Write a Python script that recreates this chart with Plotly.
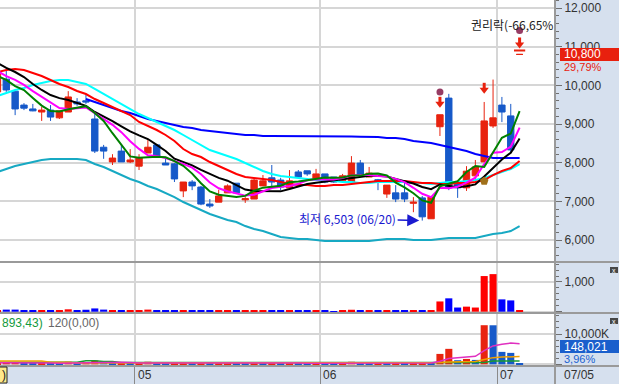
import plotly.graph_objects as go

# ---------------- data ----------------
month_labels = ["05", "06", "07"]
month_first_idx = [16, 37, 57]
last_date_label = "07/05"

opens = [9830, 10160, 9850, 9490, 9390, 9310, 9360, 9160, 9310, 9570,
         9600, 9130, 8400, 8020, 8300, 8020, 7910, 8250, 8460, 7990,
         7970, 7270, 7500, 7370, 6930, 6980, 7220, 7470, 7040, 7060,
         7400, 7610, 7550, 7350, 7760, 7790, 7580, 7710, 7630, 7530,
         7500, 7990, 7630, 7560, 7190, 7220, 7220, 6950, 7090, 6550,
         8930, 9670, 7470, 7350, 7660, 8020, 8950, 9490, 9210, 10800]
highs = [10350, 10400, 9850, 9540, 9520, 9440, 9490, 9340, 9850, 9670,
         9750, 9280, 8460, 8220, 8460, 8350, 8220, 8590, 8460, 8150,
         7990, 7500, 7550, 7400, 7060, 7300, 7440, 7470, 7110, 7580,
         7680, 7940, 7610, 7810, 7810, 7790, 7840, 7710, 7630, 7710,
         8170, 8070, 7890, 7580, 7420, 7420, 7500, 7110, 7140, 7110,
         9240, 9780, 7470, 7910, 8070, 9570, 10150, 9700, 9520, 10800]
lows = [9830, 9830, 9230, 9360, 9330, 9080, 9080, 9130, 9310, 9470,
        9520, 8250, 8100, 7940, 8020, 7990, 7810, 8250, 8150, 7940,
        7500, 7110, 7290, 6900, 6830, 6980, 7220, 7220, 6960, 7060,
        7400, 7370, 7290, 7350, 7630, 7660, 7560, 7470, 7480, 7480,
        7500, 7630, 7630, 7290, 7090, 6980, 6980, 6720, 6503, 6550,
        8690, 7290, 7090, 7270, 7550, 8020, 8900, 9050, 8250, 10800]
closes = [10350, 9880, 9390, 9410, 9340, 9360, 9180, 9340, 9700, 9520,
          9570, 8300, 8300, 8120, 8020, 8070, 8120, 8400, 8170, 7940,
          7580, 7500, 7400, 6930, 6880, 7140, 7400, 7220, 7070, 7550,
          7530, 7500, 7370, 7530, 7630, 7710, 7710, 7500, 7500, 7660,
          7990, 7680, 7730, 7530, 7420, 7060, 7060, 6980, 6600, 7110,
          9240, 7350, 7350, 7780, 7890, 9080, 9160, 9310, 8330, 10800]

ma_green = [10240, 10140, 9980, 9880, 9674, 9476, 9336, 9326, 9384, 9420,
            9462, 9286, 9078, 8762, 8462, 8162, 8126, 8146, 8156, 8140,
            8042, 7918, 7718, 7470, 7258, 7170, 7150, 7114, 7142, 7276,
            7354, 7374, 7404, 7496, 7512, 7548, 7590, 7616, 7610, 7616,
            7672, 7666, 7712, 7718, 7670, 7484, 7360, 7210, 7024, 6962,
            7392, 7450, 7524, 7760, 7916, 7890, 8252, 8644, 8754, 9336]
ma_magenta = [10370, 10240, 10140, 10010, 9850, 9700, 9559, 9414, 9389, 9407,
              9430, 9281, 9130, 8979, 8790, 8557, 8357, 8190, 8171, 8120,
              8043, 7969, 7873, 7703, 7486, 7339, 7261, 7210, 7149, 7170,
              7256, 7344, 7377, 7396, 7454, 7546, 7569, 7564, 7564, 7606,
              7671, 7679, 7681, 7656, 7644, 7581, 7496, 7351, 7197, 7109,
              7349, 7339, 7380, 7483, 7613, 7967, 8260, 8274, 8414, 8907]
ma_black = [10580, 10450, 10345, 10215, 10035, 9880, 9750, 9670, 9620, 9547,
            9469, 9311, 9202, 9073, 8941, 8812, 8706, 8612, 8459, 8301,
            8102, 8022, 7932, 7813, 7699, 7606, 7534, 7416, 7306, 7267,
            7262, 7262, 7259, 7319, 7394, 7451, 7482, 7510, 7553, 7564,
            7610, 7628, 7664, 7664, 7643, 7578, 7513, 7461, 7371, 7316,
            7438, 7405, 7367, 7392, 7439, 7641, 7851, 8084, 8257, 8626]
ma_red = [10345, 10397, 10420, 10397, 10320, 10241, 10138, 10035, 9957, 9854,
          9776, 9647, 9543, 9440, 9336, 9233, 9052, 8948, 8845, 8716,
          8560, 8354, 8224, 8147, 8018, 7914, 7811, 7707, 7630, 7604,
          7578, 7552, 7500, 7449, 7423, 7423, 7397, 7397, 7423, 7423,
          7449, 7475, 7500, 7526, 7526, 7526, 7526, 7500, 7475, 7475,
          7449, 7449, 7475, 7475, 7500, 7552, 7681, 7785, 7862, 8043]
ma_cyan = [9724, 9802, 9880, 9931, 10009, 10060, 10112, 10138, 10138, 10086,
           10035, 9906, 9776, 9647, 9517, 9388, 9259, 9155, 9052, 8948,
           8845, 8716, 8586, 8457, 8328, 8250, 8173, 8095, 7992, 7888,
           7785, 7707, 7656, 7630, 7604, 7578, 7552, 7552, 7526, 7500,
           7500, 7475, 7475, 7500, 7500, 7500, 7500, 7475, 7475, 7449,
           7475, 7500, 7500, 7526, 7552, 7604, 7681, 7759, 7837, 7966]
ma_blue = [None, None, None, None, None, None, None, None, None, None,
           9647, 9569, 9492, 9414, 9336, 9285, 9207, 9129, 9078, 9026,
           8974, 8923, 8897, 8845, 8819, 8793, 8768, 8742, 8716, 8716,
           8690, 8690, 8690, 8690, 8680, 8680, 8680, 8680, 8675, 8675,
           8675, 8670, 8670, 8664, 8638, 8638, 8612, 8560, 8535, 8509,
           8457, 8405, 8354, 8302, 8224, 8173, 8121, 8121, 8121, 8121]
ma_teal = [7759, 7837, 7914, 7966, 8018, 8069, 8095, 8095, 8095, 8095,
           8069, 7966, 7888, 7785, 7681, 7578, 7500, 7397, 7319, 7216,
           7112, 6983, 6880, 6776, 6673, 6595, 6518, 6466, 6362, 6285,
           6233, 6155, 6078, 6052, 6026, 6026, 6000, 5974, 5974, 5974,
           5974, 5974, 5974, 6000, 6026, 6026, 6026, 6000, 6000, 6000,
           6026, 6052, 6052, 6052, 6052, 6104, 6155, 6181, 6233, 6362]

trade_value = [55, 70, 70, 35, 30, 35, 30, 30, 80, 35,
               65, 110, 70, 30, 35, 25, 30, 70, 35, 25,
               35, 35, 25, 35, 25, 30, 35, 30, 25, 40,
               30, 30, 25, 30, 25, 25, 30, 25, 20, 25,
               65, 35, 25, 30, 25, 30, 25, 25, 35, 30,
               345, 450, 140, 170, 140, 1200, 1265, 415, 380, 25]
volume = [560, 700, 730, 370, 320, 370, 330, 320, 830, 370,
          680, 1250, 840, 370, 430, 310, 370, 840, 430, 310,
          450, 470, 340, 490, 360, 420, 480, 410, 350, 540,
          400, 400, 340, 400, 330, 320, 390, 330, 270, 330,
          830, 450, 320, 400, 340, 420, 350, 360, 510, 440,
          3430, 5100, 1350, 1770, 1450, 12900, 12880, 4100, 3770, 148]
vol_ma_magenta = [520, 540, 560, 560, 540, 500, 420, 350, 430, 440,
                  510, 680, 790, 800, 700, 600, 400, 470, 480, 450,
                  460, 490, 410, 410, 410, 410, 430, 430, 400, 440,
                  440, 430, 420, 420, 400, 360, 350, 350, 330, 330,
                  430, 450, 460, 470, 480, 370, 370, 380, 400, 420,
                  1020, 1920, 2130, 2410, 2620, 4510, 6070, 6620, 7020, 6760]
vol_ma_orange = [1100, 1100, 1100, 1100, 1100, 1100, 700, 700, 700, 450,
                 450, 450, 450, 450, 450, 450, 450, 450, 450, 450,
                 450, 450, 450, 450, 450, 450, 450, 450, 450, 450,
                 450, 450, 450, 450, 450, 450, 450, 450, 450, 450,
                 450, 450, 450, 450, 450, 450, 450, 450, 450, 450,
                 580, 780, 830, 900, 950, 1580, 2200, 2390, 2560, 2550]
vol_ma_green = [650, 650, 650, 650, 650, 650, 650, 650, 650, 650,
                1200, 1200, 900, 900, 600, 600, 600, 600, 600, 600,
                600, 600, 600, 600, 600, 600, 600, 600, 600, 600,
                600, 600, 600, 600, 600, 600, 600, 600, 600, 600,
                600, 600, 600, 600, 600, 600, 600, 600, 600, 600,
                600, 600, 600, 600, 600, 600, 1050, 1050, 1050, 1050]

low_idx, low_value = 48, 6503
low_label = "최저 6,503 (06/20)"
signal_arrow_idx = [50, 55, 59]
signal_arrow_tip = [9432, 9794, 10966]
signal_dot_idx = [50, 59]
signal_dot_price = [9828, 11418]
signal_buy_idx = [55]
signal_buy_price = [7526]
rights_label = "권리락(-66,65%"
last_price = 10800
last_price_label = "10,800"
last_change_label = "29,79%"
last_volume_label = "148,021"
last_volume_change = "3,96%"
legend_snippets = ["893,43)", "120(0,00)"]

x = list(range(len(opens)))

# ---------------- layout constants ----------------
W, H = 619, 384
PW, PH = 555, 366
ROW1_B, ROW2_B = 262, 313
Y1 = [5432, 12207]
Y2 = [-44, 1673]
Y3 = [-561, 16930]
XR = [0.29, 63.0]
ppp = (Y1[1] - Y1[0]) / ROW1_B  # price per pixel in main panel

RED_C, BLUE_C = "#e8230f", "#1659c9"
GRID = "#d6d6d6"
SEP = "#9a9a9a"
BG = "#d6e0ee"
NUMFONT = "Liberation Sans, Arial, sans-serif"
KRFONT = "Noto Sans CJK KR, sans-serif"


def pyp(px):
    return 1 - px / PH


def pxp(px):
    return px / PW


fig = go.Figure()

# moving-average lines (main panel)
for vals, col in [(ma_teal, "#17a9c3"), (ma_blue, "#0000ff"), (ma_cyan, "#00ffff"),
                  (ma_red, "#ff0000"), (ma_black, "#000000"),
                  (ma_magenta, "#ff00ff"), (ma_green, "#008000")]:
    fig.add_trace(go.Scatter(x=x, y=vals, mode="lines", line=dict(color=col, width=2),
                             hoverinfo="skip", xaxis="x", yaxis="y"))

fig.add_trace(go.Candlestick(
    x=x, open=opens, high=highs, low=lows, close=closes,
    increasing=dict(line=dict(color=RED_C, width=1), fillcolor=RED_C),
    decreasing=dict(line=dict(color=BLUE_C, width=1), fillcolor=BLUE_C),
    whiskerwidth=0, hoverinfo="skip", xaxis="x", yaxis="y"))

# signal markers
stem_y = [t + 7 * ppp for t in signal_arrow_tip]
head_y = [t + 3.5 * ppp for t in signal_arrow_tip]
fig.add_trace(go.Scatter(x=signal_arrow_idx, y=stem_y, mode="markers",
                         marker=dict(symbol="line-ns", size=5, line=dict(color=RED_C, width=3)),
                         hoverinfo="skip", xaxis="x", yaxis="y"))
fig.add_trace(go.Scatter(x=signal_arrow_idx, y=head_y, mode="markers",
                         marker=dict(symbol="triangle-down", size=8, color=RED_C, line=dict(width=0)),
                         hoverinfo="skip", xaxis="x", yaxis="y"))
fig.add_trace(go.Scatter(x=signal_arrow_idx[-1:], y=[signal_arrow_tip[-1] - 2.5 * ppp], mode="markers",
                         marker=dict(symbol="line-ew", size=8, line=dict(color=RED_C, width=2)),
                         hoverinfo="skip", xaxis="x", yaxis="y"))
fig.add_trace(go.Scatter(x=signal_dot_idx, y=signal_dot_price, mode="markers",
                         marker=dict(symbol="circle", size=7, color="#963c64", line=dict(width=0)),
                         hoverinfo="skip", xaxis="x", yaxis="y"))
fig.add_trace(go.Scatter(x=signal_buy_idx, y=signal_buy_price, mode="markers",
                         marker=dict(symbol="pentagon", size=9, color="#a0701a", line=dict(width=0)),
                         hoverinfo="skip", xaxis="x", yaxis="y"))

# trading value panel
tv_colors = ["#ff0000" if c >= o else "#0000ff" for o, c in zip(opens, closes)]
fig.add_trace(go.Bar(x=x, y=trade_value, marker=dict(color=tv_colors, line=dict(width=0)),
                     width=0.8, hoverinfo="skip", xaxis="x2", yaxis="y2"))

# volume panel
vol_colors = [RED_C] + [RED_C if volume[i] >= volume[i - 1] else BLUE_C for i in range(1, len(volume))]
fig.add_trace(go.Bar(x=x, y=volume, marker=dict(color=vol_colors, line=dict(width=0)),
                     width=0.8, hoverinfo="skip", xaxis="x3", yaxis="y3"))
for vals, col in [(vol_ma_green, "#1a9a30"), (vol_ma_orange, "#f0a000"), (vol_ma_magenta, "#e030c0")]:
    fig.add_trace(go.Scatter(x=x, y=vals, mode="lines", line=dict(color=col, width=1.5),
                             hoverinfo="skip", xaxis="x3", yaxis="y3"))

common_x = dict(range=XR, tickmode="array", tickvals=[s - 0.5 for s in month_first_idx],
                showgrid=True, gridcolor=GRID, gridwidth=2, showticklabels=False,
                zeroline=False, showline=False, fixedrange=True)
tickstyle = dict(side="right", ticks="outside", ticklen=6, tickwidth=1, tickcolor="#707070",
                 showline=False, zeroline=False, showgrid=True, gridcolor=GRID, gridwidth=2,
                 tickfont=dict(family=NUMFONT, size=12, color="#333333"), fixedrange=True)

fig.update_layout(
    width=W, height=H, autosize=False,
    margin=dict(l=0, r=W - PW, t=0, b=H - PH, pad=0),
    paper_bgcolor=BG, plot_bgcolor="white", showlegend=False,
    bargap=0.2, boxmode="overlay", boxgap=0.2, boxgroupgap=0.1,
    xaxis=dict(**common_x, anchor="y", rangeslider=dict(visible=False)),
    xaxis2=dict(**common_x, anchor="y2", matches="x"),
    xaxis3=dict(**common_x, anchor="y3", matches="x", ticks="outside", ticklen=H - PH,
                tickcolor="#8a8a8a", tickwidth=1),
    yaxis=dict(**tickstyle, domain=[pyp(ROW1_B), 1], range=Y1, tickmode="linear",
               tick0=0, dtick=1000, tickformat=",d",
               minor=dict(dtick=200, tick0=0, ticks="outside", ticklen=3, tickcolor="#707070", showgrid=False)),
    yaxis2=dict(**tickstyle, domain=[pyp(ROW2_B), pyp(ROW1_B)], range=Y2, tickmode="array",
                tickvals=[0, 1000], ticktext=["", "1,000"],
                minor=dict(dtick=200, tick0=0, ticks="outside", ticklen=3, tickcolor="#707070", showgrid=False)),
    yaxis3=dict(**tickstyle, domain=[0, pyp(ROW2_B)], range=Y3, tickmode="array",
                tickvals=[0, 10000], ticktext=["", "10,000K"],
                minor=dict(dtick=2000, tick0=0, ticks="outside", ticklen=3, tickcolor="#707070", showgrid=False)),
)

xr = W / PW
shapes = []
for py_ in [ROW1_B, ROW2_B, PH]:
    shapes.append(dict(type="line", xref="paper", yref="paper", x0=0, x1=xr, y0=pyp(py_), y1=pyp(py_),
                       line=dict(color=SEP, width=2), layer="above"))
shapes.append(dict(type="line", xref="paper", yref="paper", x0=1, x1=1, y0=pyp(H), y1=1,
                   line=dict(color=SEP, width=2), layer="above"))
# yellow cursor box bottom-left
shapes.append(dict(type="rect", xref="paper", yref="paper", x0=pxp(-20), x1=pxp(7), y0=pyp(383), y1=pyp(367),
                   fillcolor="#ffe98a", line=dict(color="#222222", width=1), layer="above"))
# last price box
shapes.append(dict(type="rect", xref="paper", yref="y", x0=pxp(560), x1=xr, y0=last_price - 6.5 * ppp,
                   y1=last_price + 6.5 * ppp, fillcolor="#e8200e", line=dict(width=0), layer="above"))
# last volume box
shapes.append(dict(type="rect", xref="paper", yref="paper", x0=pxp(560), x1=xr, y0=pyp(353), y1=pyp(340),
                   fillcolor="#1a5fcc", line=dict(width=0), layer="above"))
# close buttons
for top in [267, 318]:
    shapes.append(dict(type="rect", xref="paper", yref="paper", x0=pxp(610), x1=pxp(618),
                       y0=pyp(top + 6), y1=pyp(top), fillcolor="#474747", line=dict(width=0), layer="above"))

ann = []
for lab, s in zip(month_labels, month_first_idx):
    ann.append(dict(xref="x", yref="paper", x=s - 0.5, y=pyp(375), text=lab, showarrow=False,
                    xanchor="left", yanchor="middle", xshift=1,
                    font=dict(family=NUMFONT, size=12, color="#333333")))
ann.append(dict(xref="paper", yref="paper", x=pxp(562), y=pyp(375), text=last_date_label, showarrow=False,
                xanchor="left", yanchor="middle", font=dict(family=NUMFONT, size=12, color="#333333")))
ann.append(dict(xref="paper", yref="paper", x=0, y=pyp(375), text=")", showarrow=False,
                xanchor="left", yanchor="middle", font=dict(family=NUMFONT, size=12, color="#222222")))
ann.append(dict(xref="paper", yref="y", x=pxp(562), y=last_price, text=last_price_label, showarrow=False,
                xanchor="left", yanchor="middle", font=dict(family=NUMFONT, size=12, color="white")))
ann.append(dict(xref="paper", yref="y", x=pxp(562), y=last_price - 12.5 * ppp, text=last_change_label,
                showarrow=False, xanchor="left", yanchor="middle",
                font=dict(family=NUMFONT, size=11, color="#e8200e")))
ann.append(dict(xref="paper", yref="paper", x=pxp(562), y=pyp(346.5), text=last_volume_label, showarrow=False,
                xanchor="left", yanchor="middle", font=dict(family=NUMFONT, size=12, color="white")))
ann.append(dict(xref="paper", yref="paper", x=pxp(562), y=pyp(358.5), text=last_volume_change, showarrow=False,
                xanchor="left", yanchor="middle", font=dict(family=NUMFONT, size=11, color="#2060d0")))
for top in [267, 318]:
    ann.append(dict(xref="paper", yref="paper", x=pxp(614), y=pyp(top + 3), text="x", showarrow=False,
                    xanchor="center", yanchor="middle", font=dict(family=NUMFONT, size=7, color="white")))
ann.append(dict(xref="paper", yref="paper", x=0, y=pyp(323), text=legend_snippets[0], showarrow=False,
                xanchor="left", yanchor="middle", font=dict(family=NUMFONT, size=12, color="#149a3c")))
ann.append(dict(xref="paper", yref="paper", x=pxp(46), y=pyp(323), text=legend_snippets[1], showarrow=False,
                xanchor="left", yanchor="middle", font=dict(family=NUMFONT, size=12, color="#666666")))
ann.append(dict(xref="paper", yref="paper", x=1, y=pyp(25), text=rights_label, showarrow=False,
                xanchor="right", yanchor="middle", font=dict(family=KRFONT, size=12, color="#222222")))
ann.append(dict(xref="x", yref="y", x=low_idx, y=low_value, text=low_label, showarrow=True,
                ax=-74.6, ay=-1.7, arrowhead=2, arrowsize=1.6, arrowwidth=1.5, arrowcolor="#1a1ad0",
                standoff=3, font=dict(family=KRFONT, size=12, color="#1a1ad0")))

fig.update_layout(shapes=shapes, annotations=ann)

fig.write_html("out.html", config={"displayModeBar": False})
